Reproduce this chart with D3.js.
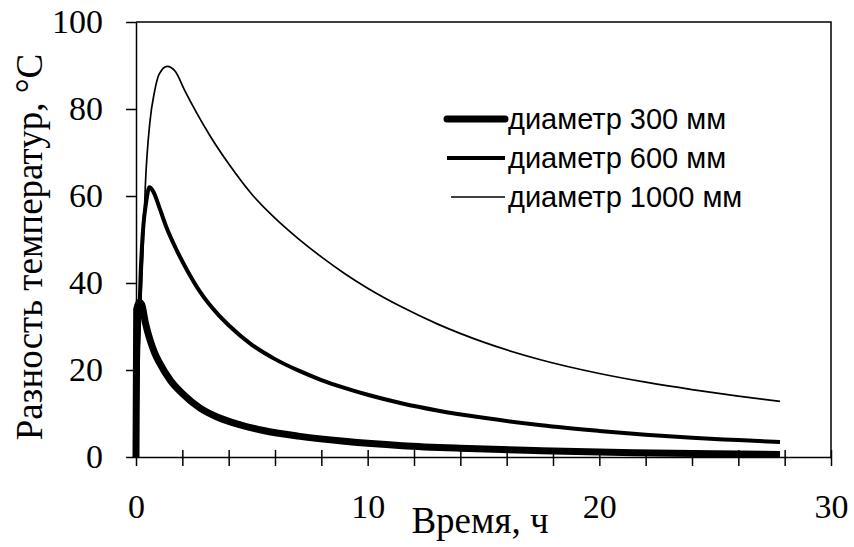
<!DOCTYPE html>
<html>
<head>
<meta charset="utf-8">
<script src="https://cdn.jsdelivr.net/npm/d3@7"></script>
<style>
	body { margin: 0; background: #fff; }
	svg { display: block; }
	.tick text { font-family: "Liberation Serif", "Times New Roman", serif; font-size: 34px; fill: #000; }
</style>
</head>
<body>
<svg id="chart" width="854" height="547"></svg>
<script>
// time, h
var time300 = [0, 0.03, 0.15, 0.25, 0.4, 0.6, 0.8, 1.0, 1.5, 2.0, 2.75, 3.5, 4.5, 5.5, 7, 9, 11.5, 14, 17.5, 21.5, 25, 27.8];
var val300 = [0, 34, 35.6, 35, 31, 27, 24, 21.8, 17.5, 14.6, 11.3, 9.2, 7.4, 6.1, 4.8, 3.6, 2.6, 2.0, 1.45, 1.0, 0.75, 0.6];

var time600 = [0, 0.1, 0.2, 0.3, 0.45, 0.58, 0.75, 1.0, 1.3, 1.75, 2.2, 2.76, 3.5, 4, 5, 6, 7, 8, 9, 10, 11.5, 13, 15, 17.5, 20, 22, 24, 26, 27.8];
var val600 = [0, 25, 42, 52, 59, 62, 61, 57.5, 53, 47.6, 43, 38, 33, 30.3, 25.8, 22.5, 19.9, 17.7, 15.9, 14.3, 12.3, 10.7, 9.0, 7.3, 6.0, 5.1, 4.4, 3.9, 3.45];

var time1000 = [0, 0.1, 0.2, 0.3, 0.4, 0.6, 0.8, 1.0, 1.35, 1.7, 2.1, 2.6, 3.2, 4, 5, 6, 7, 8, 9, 10, 11.5, 13, 15, 17.5, 20, 22, 24, 26, 27.8];
var val1000 = [0, 20, 35, 47, 62, 77, 84, 88, 89.8, 88.6, 84.3, 79.3, 73.8, 67.4, 60.4, 54.9, 50.2, 46.0, 42.2, 38.8, 34.4, 30.6, 26.4, 22.3, 19.2, 17.2, 15.5, 14.0, 12.8];

var seriesNames = ["диаметр 300 мм", "диаметр 600 мм", "диаметр 1000 мм"];
var xTicks = [0, 2, 4, 6, 8, 10, 12, 14, 16, 18, 20, 22, 24, 26, 28, 30];
var xLabels = [0, 10, 20, 30];
var yTicks = [0, 20, 40, 60, 80, 100];

var series = [
	{ name: seriesNames[0], t: time300, v: val300, width: 7 },
	{ name: seriesNames[1], t: time600, v: val600, width: 4 },
	{ name: seriesNames[2], t: time1000, v: val1000, width: 1.7 }
];

var svg = d3.select("#chart");
var plotLeft = 136, plotRight = 831, plotTop = 22, plotBottom = 457;

var x = d3.scaleLinear().domain([0, 30]).range([plotLeft, plotRight]);
var y = d3.scaleLinear().domain([0, 100]).range([plotBottom, plotTop]);

// frame (top and right)
svg.append("path")
	.attr("d", "M" + plotLeft + "," + plotTop + "H" + plotRight + "V" + plotBottom)
	.attr("fill", "none")
	.attr("stroke", "#000")
	.attr("stroke-width", 1.5);

var line = d3.line()
	.x(function(d) { return x(d[0]); })
	.y(function(d) { return y(d[1]); })
	.curve(d3.curveMonotoneX);

series.forEach(function(s) {
	var pts = s.t.map(function(t, i) { return [t, s.v[i]]; });
	svg.append("path")
		.datum(pts)
		.attr("d", line)
		.attr("fill", "none")
		.attr("stroke", "#000")
		.attr("stroke-width", s.width)
		.attr("stroke-linejoin", "round");
});

// y axis
var yAxis = svg.append("g")
	.attr("transform", "translate(" + plotLeft + ",0)")
	.call(d3.axisLeft(y).tickValues(yTicks).tickSize(10).tickPadding(23).tickSizeOuter(0));

// x axis, ticks cross the line
var xAxis = svg.append("g")
	.attr("transform", "translate(0," + plotBottom + ")")
	.call(d3.axisBottom(x).tickValues(xTicks).tickSize(9).tickPadding(28).tickSizeOuter(0)
		.tickFormat(function(d) { return xLabels.indexOf(d) >= 0 ? d : ""; }));
xAxis.selectAll(".tick line").attr("y1", -7);

svg.selectAll(".domain, .tick line").attr("stroke", "#000").attr("stroke-width", 1.5);

// axis titles
svg.append("text")
	.attr("x", 480)
	.attr("y", 533)
	.attr("text-anchor", "middle")
	.style("font-family", "'Liberation Serif', 'Times New Roman', serif")
	.style("font-size", "37px")
	.text("Время, ч");

svg.append("text")
	.attr("transform", "translate(42,247) rotate(-90)")
	.attr("text-anchor", "middle")
	.style("font-family", "'Liberation Serif', 'Times New Roman', serif")
	.style("font-size", "37px")
	.text("Разность температур, °C");

// legend
var legend = svg.append("g");
series.forEach(function(s, i) {
	var ly = 119 + i * 39;
	legend.append("line")
		.attr("x1", i == 2 ? 451 : 447)
		.attr("x2", 505)
		.attr("y1", ly)
		.attr("y2", ly)
		.attr("stroke", "#000")
		.attr("stroke-width", s.width)
		.attr("stroke-linecap", i == 0 ? "round" : "butt");
	legend.append("text")
		.attr("x", 508)
		.attr("y", ly + 10)
		.style("font-family", "'Liberation Sans', Arial, sans-serif")
		.style("font-size", "29px")
		.text(s.name);
});
</script>
</body>
</html>
